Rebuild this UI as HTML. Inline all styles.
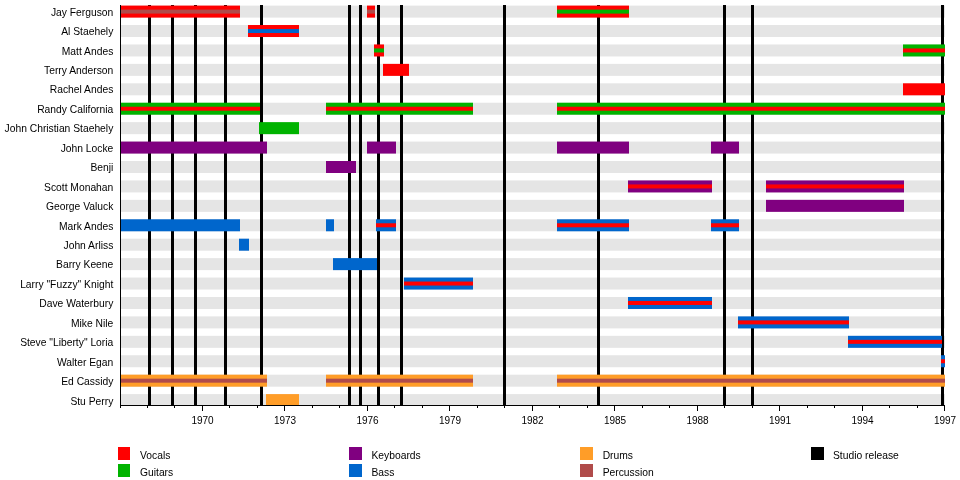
<!DOCTYPE html>
<html><head><meta charset="utf-8"><title>Spirit timeline</title>
<style>
html,body{margin:0;padding:0;background:#fff;}
body{width:960px;height:480px;overflow:hidden;}
svg{display:block;will-change:transform;}
text{font-family:"Liberation Sans",Arial,sans-serif;font-size:10.3px;fill:#000;}
.yr{font-size:10px;}
</style></head><body>
<svg width="960" height="480" viewBox="0 0 960 480">
<rect x="0" y="0" width="960" height="480" fill="#fff"/>
<g fill="#e5e5e5">
<rect x="120" y="5.6" width="825" height="12"/>
<rect x="120" y="25.02" width="825" height="12"/>
<rect x="120" y="44.45" width="825" height="12"/>
<rect x="120" y="63.88" width="825" height="12"/>
<rect x="120" y="83.3" width="825" height="12"/>
<rect x="120" y="102.72" width="825" height="12"/>
<rect x="120" y="122.15" width="825" height="12"/>
<rect x="120" y="141.57" width="825" height="12"/>
<rect x="120" y="161" width="825" height="12"/>
<rect x="120" y="180.43" width="825" height="12"/>
<rect x="120" y="199.85" width="825" height="12"/>
<rect x="120" y="219.28" width="825" height="12"/>
<rect x="120" y="238.7" width="825" height="12"/>
<rect x="120" y="258.12" width="825" height="12"/>
<rect x="120" y="277.55" width="825" height="12"/>
<rect x="120" y="296.98" width="825" height="12"/>
<rect x="120" y="316.4" width="825" height="12"/>
<rect x="120" y="335.83" width="825" height="12"/>
<rect x="120" y="355.25" width="825" height="12"/>
<rect x="120" y="374.68" width="825" height="12"/>
<rect x="120" y="394.1" width="825" height="10.9"/>
</g>
<g fill="#000">
<rect x="148" y="5" width="3" height="400"/>
<rect x="171" y="5" width="3" height="400"/>
<rect x="194" y="5" width="3" height="400"/>
<rect x="224" y="5" width="3" height="400"/>
<rect x="260" y="5" width="3" height="400"/>
<rect x="348" y="5" width="3" height="400"/>
<rect x="359" y="5" width="3" height="400"/>
<rect x="377" y="5" width="3" height="400"/>
<rect x="400" y="5" width="3" height="400"/>
<rect x="503" y="5" width="3" height="400"/>
<rect x="597" y="5" width="3" height="400"/>
<rect x="723" y="5" width="3" height="400"/>
<rect x="751" y="5" width="3" height="400"/>
<rect x="941" y="5" width="3" height="400"/>
</g>
<rect x="120" y="5.6" width="120" height="12" fill="#ff0000"/>
<rect x="120" y="9.6" width="120" height="4" fill="#b04b4a"/>
<rect x="367" y="5.6" width="8" height="12" fill="#ff0000"/>
<rect x="367" y="9.6" width="8" height="4" fill="#b04b4a"/>
<rect x="557" y="5.6" width="72" height="12" fill="#ff0000"/>
<rect x="557" y="9.6" width="72" height="4" fill="#00b300"/>
<rect x="248" y="25.02" width="51" height="12" fill="#ff0000"/>
<rect x="248" y="29.02" width="51" height="4" fill="#0066cc"/>
<rect x="374" y="44.45" width="10" height="12" fill="#ff0000"/>
<rect x="374" y="48.45" width="10" height="4" fill="#00b300"/>
<rect x="903" y="44.45" width="42" height="12" fill="#00b300"/>
<rect x="903" y="48.45" width="42" height="4" fill="#ff0000"/>
<rect x="383" y="63.88" width="26" height="12" fill="#ff0000"/>
<rect x="903" y="83.3" width="42" height="12" fill="#ff0000"/>
<rect x="120" y="102.72" width="140" height="12" fill="#00b300"/>
<rect x="120" y="106.72" width="140" height="4" fill="#ff0000"/>
<rect x="326" y="102.72" width="147" height="12" fill="#00b300"/>
<rect x="326" y="106.72" width="147" height="4" fill="#ff0000"/>
<rect x="557" y="102.72" width="388" height="12" fill="#00b300"/>
<rect x="557" y="106.72" width="388" height="4" fill="#ff0000"/>
<rect x="259" y="122.15" width="40" height="12" fill="#00b300"/>
<rect x="120" y="141.57" width="147" height="12" fill="#800080"/>
<rect x="367" y="141.57" width="29" height="12" fill="#800080"/>
<rect x="557" y="141.57" width="72" height="12" fill="#800080"/>
<rect x="711" y="141.57" width="28" height="12" fill="#800080"/>
<rect x="326" y="161" width="30" height="12" fill="#800080"/>
<rect x="628" y="180.43" width="84" height="12" fill="#800080"/>
<rect x="628" y="184.43" width="84" height="4" fill="#ff0000"/>
<rect x="766" y="180.43" width="138" height="12" fill="#800080"/>
<rect x="766" y="184.43" width="138" height="4" fill="#ff0000"/>
<rect x="766" y="199.85" width="138" height="12" fill="#800080"/>
<rect x="120" y="219.28" width="120" height="12" fill="#0066cc"/>
<rect x="326" y="219.28" width="8" height="12" fill="#0066cc"/>
<rect x="376" y="219.28" width="20" height="12" fill="#0066cc"/>
<rect x="376" y="223.28" width="20" height="4" fill="#ff0000"/>
<rect x="557" y="219.28" width="72" height="12" fill="#0066cc"/>
<rect x="557" y="223.28" width="72" height="4" fill="#ff0000"/>
<rect x="711" y="219.28" width="28" height="12" fill="#0066cc"/>
<rect x="711" y="223.28" width="28" height="4" fill="#ff0000"/>
<rect x="239" y="238.7" width="10" height="12" fill="#0066cc"/>
<rect x="333" y="258.12" width="44" height="12" fill="#0066cc"/>
<rect x="404" y="277.55" width="69" height="12" fill="#0066cc"/>
<rect x="404" y="281.55" width="69" height="4" fill="#ff0000"/>
<rect x="628" y="296.98" width="84" height="12" fill="#0066cc"/>
<rect x="628" y="300.98" width="84" height="4" fill="#ff0000"/>
<rect x="738" y="316.4" width="111" height="12" fill="#0066cc"/>
<rect x="738" y="320.4" width="111" height="4" fill="#ff0000"/>
<rect x="848" y="335.83" width="94" height="12" fill="#0066cc"/>
<rect x="848" y="339.83" width="94" height="4" fill="#ff0000"/>
<rect x="941" y="355.25" width="4" height="12" fill="#0066cc"/>
<rect x="941" y="359.25" width="4" height="4" fill="#ff0000"/>
<rect x="120" y="374.68" width="147" height="12" fill="#ff9d28"/>
<rect x="120" y="378.68" width="147" height="4" fill="#b04b4a"/>
<rect x="326" y="374.68" width="147" height="12" fill="#ff9d28"/>
<rect x="326" y="378.68" width="147" height="4" fill="#b04b4a"/>
<rect x="557" y="374.68" width="388" height="12" fill="#ff9d28"/>
<rect x="557" y="378.68" width="388" height="4" fill="#b04b4a"/>
<rect x="266" y="394.1" width="33" height="10.9" fill="#ff9d28"/>
<rect x="120" y="5" width="1" height="401" fill="#000"/>
<rect x="120" y="405" width="825" height="1" fill="#000"/>
<g fill="#000">
<rect x="120" y="405" width="1" height="3"/>
<rect x="147" y="405" width="1" height="3"/>
<rect x="174" y="405" width="1" height="3"/>
<rect x="202" y="405" width="1" height="6"/>
<rect x="229" y="405" width="1" height="3"/>
<rect x="257" y="405" width="1" height="3"/>
<rect x="284" y="405" width="1" height="6"/>
<rect x="312" y="405" width="1" height="3"/>
<rect x="339" y="405" width="1" height="3"/>
<rect x="367" y="405" width="1" height="6"/>
<rect x="394" y="405" width="1" height="3"/>
<rect x="422" y="405" width="1" height="3"/>
<rect x="449" y="405" width="1" height="6"/>
<rect x="477" y="405" width="1" height="3"/>
<rect x="504" y="405" width="1" height="3"/>
<rect x="532" y="405" width="1" height="6"/>
<rect x="559" y="405" width="1" height="3"/>
<rect x="587" y="405" width="1" height="3"/>
<rect x="614" y="405" width="1" height="6"/>
<rect x="642" y="405" width="1" height="3"/>
<rect x="669" y="405" width="1" height="3"/>
<rect x="697" y="405" width="1" height="6"/>
<rect x="724" y="405" width="1" height="3"/>
<rect x="752" y="405" width="1" height="3"/>
<rect x="779" y="405" width="1" height="6"/>
<rect x="807" y="405" width="1" height="3"/>
<rect x="834" y="405" width="1" height="3"/>
<rect x="862" y="405" width="1" height="6"/>
<rect x="889" y="405" width="1" height="3"/>
<rect x="917" y="405" width="1" height="3"/>
<rect x="944" y="405" width="1" height="6"/>
</g>
<text class="yr" x="202.5" y="424" text-anchor="middle">1970</text>
<text class="yr" x="285" y="424" text-anchor="middle">1973</text>
<text class="yr" x="367.5" y="424" text-anchor="middle">1976</text>
<text class="yr" x="450" y="424" text-anchor="middle">1979</text>
<text class="yr" x="532.5" y="424" text-anchor="middle">1982</text>
<text class="yr" x="615" y="424" text-anchor="middle">1985</text>
<text class="yr" x="697.5" y="424" text-anchor="middle">1988</text>
<text class="yr" x="780" y="424" text-anchor="middle">1991</text>
<text class="yr" x="862.5" y="424" text-anchor="middle">1994</text>
<text class="yr" x="945" y="424" text-anchor="middle">1997</text>
<text x="113.3" y="16" text-anchor="end">Jay Ferguson</text>
<text x="113.3" y="35" text-anchor="end">Al Staehely</text>
<text x="113.3" y="55" text-anchor="end">Matt Andes</text>
<text x="113.3" y="74" text-anchor="end">Terry Anderson</text>
<text x="113.3" y="93" text-anchor="end">Rachel Andes</text>
<text x="113.3" y="113" text-anchor="end">Randy California</text>
<text x="113.3" y="132" text-anchor="end">John Christian Staehely</text>
<text x="113.3" y="152" text-anchor="end">John Locke</text>
<text x="113.3" y="171" text-anchor="end">Benji</text>
<text x="113.3" y="191" text-anchor="end">Scott Monahan</text>
<text x="113.3" y="210" text-anchor="end">George Valuck</text>
<text x="113.3" y="230" text-anchor="end">Mark Andes</text>
<text x="113.3" y="249" text-anchor="end">John Arliss</text>
<text x="113.3" y="268" text-anchor="end">Barry Keene</text>
<text x="113.3" y="288" text-anchor="end">Larry &quot;Fuzzy&quot; Knight</text>
<text x="113.3" y="307" text-anchor="end">Dave Waterbury</text>
<text x="113.3" y="327" text-anchor="end">Mike Nile</text>
<text x="113.3" y="346" text-anchor="end">Steve &quot;Liberty&quot; Loria</text>
<text x="113.3" y="366" text-anchor="end">Walter Egan</text>
<text x="113.3" y="385" text-anchor="end">Ed Cassidy</text>
<text x="113.3" y="405" text-anchor="end">Stu Perry</text>
<rect x="118" y="447" width="12" height="13" fill="#ff0000"/>
<text x="140" y="458.5">Vocals</text>
<rect x="118" y="464" width="12" height="13" fill="#00b300"/>
<text x="140" y="475.5">Guitars</text>
<rect x="349" y="447" width="13" height="13" fill="#800080"/>
<text x="371.5" y="458.5">Keyboards</text>
<rect x="349" y="464" width="13" height="13" fill="#0066cc"/>
<text x="371.5" y="475.5">Bass</text>
<rect x="580" y="447" width="13" height="13" fill="#ff9d28"/>
<text x="602.7" y="458.5">Drums</text>
<rect x="580" y="464" width="13" height="13" fill="#b04b4a"/>
<text x="602.7" y="475.5">Percussion</text>
<rect x="811" y="447" width="13" height="13" fill="#000000"/>
<text x="833" y="458.5">Studio release</text>
</svg>
</body></html>
